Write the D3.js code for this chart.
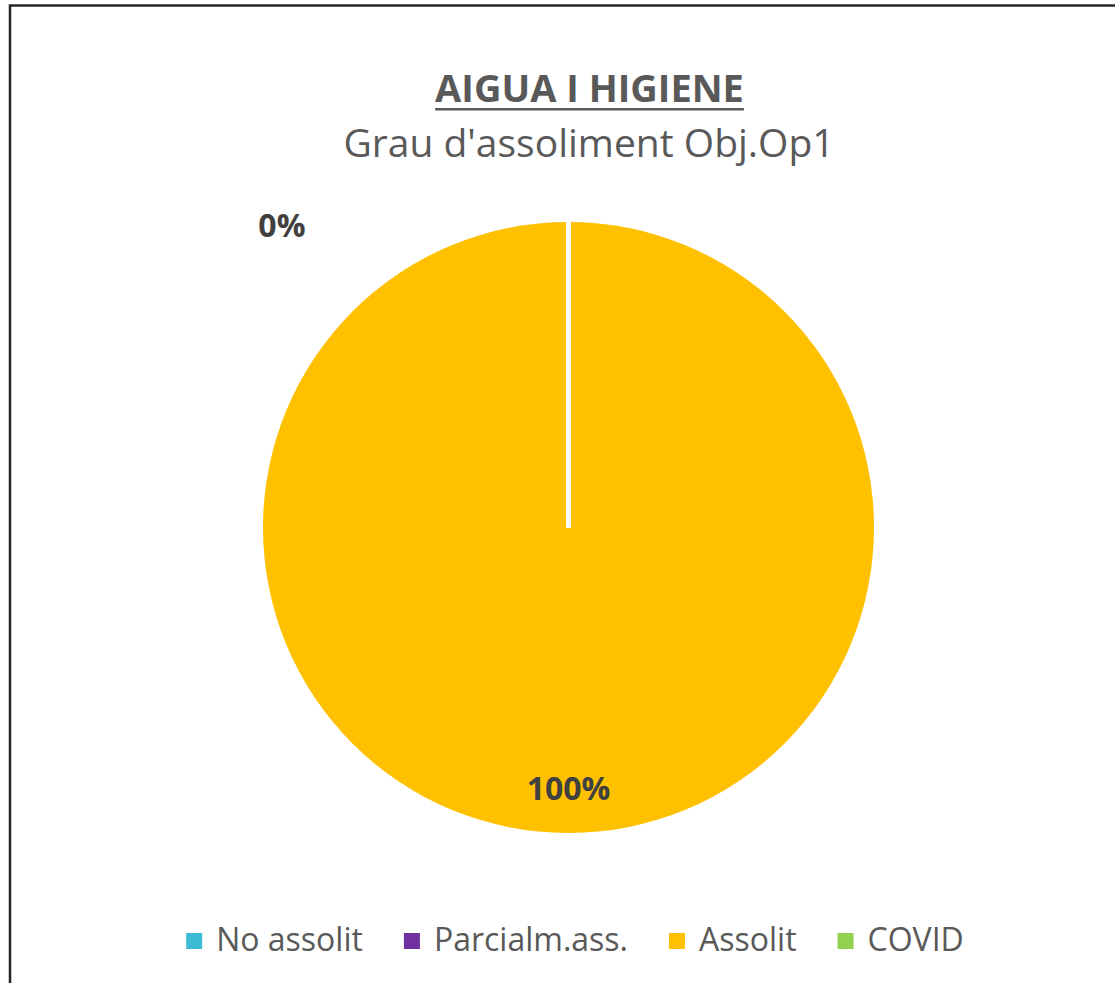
<!DOCTYPE html>
<html>
<head>
<meta charset="utf-8">
<script src="https://cdn.jsdelivr.net/npm/d3@7"></script>
<style>
  body { margin: 0; background: #fff; }
  text { font-family: "Open Sans", sans-serif; }
</style>
</head>
<body>
<div id="box"></div>
<script>
const categories = ['No assolit', 'Parcialm.ass.', 'Assolit', 'COVID']
const values = [0, 0, 1, 0]
const colors = ['#3CBCD4', '#7030A0', '#FFC000', '#92D050']
const title = 'AIGUA I HIGIENE'
const subtitle = "Grau d'assoliment Obj.Op1"

const width = 1115
const height = 983
const cx = 568.5, cy = 527.5, radius = 305.5

const svg = d3.select('#box').append('svg')
  .attr('width', width)
  .attr('height', height)

// chart border
svg.append('rect')
  .attr('x', 10).attr('y', 5.5)
  .attr('width', 1200).attr('height', 1200)
  .attr('fill', 'none')
  .attr('stroke', '#262626')
  .attr('stroke-width', 2.5)

// titles
const t = svg.append('text')
  .text(title)
  .attr('x', 589.5).attr('y', 102)
  .attr('text-anchor', 'middle')
  .attr('fill', '#595959')
  .style('font-size', '38px')
  .style('font-weight', 'bold')
const tb = t.node().getBBox()
svg.append('rect')
  .attr('x', tb.x).attr('y', 108)
  .attr('width', tb.width).attr('height', 2.5)
  .attr('fill', '#595959')

svg.append('text')
  .text(subtitle)
  .attr('x', 589).attr('y', 157)
  .attr('text-anchor', 'middle')
  .attr('fill', '#595959')
  .style('font-size', '39px')

// pie
const total = d3.sum(values)
const pie = d3.pie().sort(null).value(d => d.value)
const slices = pie(categories.map((c, i) => ({ name: c, value: values[i], color: colors[i] })))
const arc = d3.arc().innerRadius(0).outerRadius(radius)
const inLabel = d3.arc().innerRadius(261).outerRadius(261)

const g = svg.append('g').attr('transform', `translate(${cx},${cy})`)

g.selectAll('path.big')
  .data(slices.filter(d => d.data.value > 0))
  .enter().append('path')
  .attr('class', 'big')
  .attr('d', arc)
  .attr('fill', d => d.data.color)

g.selectAll('path.zero')
  .data(slices.filter(d => d.data.value === 0))
  .enter().append('path')
  .attr('class', 'zero')
  .attr('d', arc)
  .attr('fill', d => d.data.color)
  .attr('stroke', '#fff')
  .attr('stroke-width', 4.5)

const fmt = d3.format('.0%')

g.selectAll('text.lab')
  .data(slices.filter(d => d.data.value > 0))
  .enter().append('text')
  .attr('class', 'lab')
  .text(d => fmt(d.data.value / total))
  .attr('transform', d => `translate(${inLabel.centroid(d)})`)
  .attr('text-anchor', 'middle')
  .attr('dy', '0.35em')
  .attr('fill', '#404040')
  .style('font-size', '32px')
  .style('font-weight', 'bold')

// zero-value labels sit outside, only one is visible (they overlap)
const zeroes = slices.filter(d => d.data.value === 0).slice(0, 1)
const outR = 416, shift = -0.76
g.selectAll('text.zlab')
  .data(zeroes)
  .enter().append('text')
  .attr('class', 'zlab')
  .text(d => fmt(d.data.value / total))
  .attr('x', d => outR * Math.sin(d.startAngle + shift))
  .attr('y', d => -outR * Math.cos(d.startAngle + shift))
  .attr('text-anchor', 'middle')
  .attr('dy', '0.35em')
  .attr('fill', '#404040')
  .style('font-size', '32px')
  .style('font-weight', 'bold')

// legend
const gap = 41
const leg = svg.append('g')
const items = leg.selectAll('g')
  .data(categories)
  .enter().append('g')
items.append('rect')
  .attr('width', 16).attr('height', 16)
  .attr('y', -18)
  .attr('fill', (d, i) => colors[i])
items.append('text')
  .text(d => d)
  .attr('x', 30)
  .attr('fill', '#595959')
  .style('font-size', '32px')
let xPos = 0
items.each(function () {
  const w = this.querySelector('text').getComputedTextLength()
  d3.select(this).attr('transform', `translate(${xPos},0)`)
  xPos += 30 + w + gap
})
const legW = xPos - gap
leg.attr('transform', `translate(${575 - legW / 2},${951})`)
</script>
</body>
</html>
